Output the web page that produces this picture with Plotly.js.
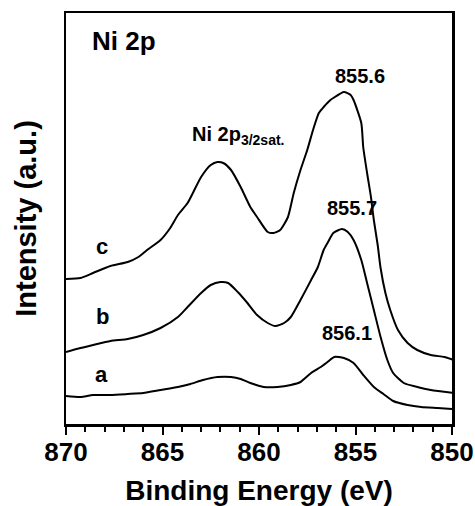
<!DOCTYPE html>
<html>
<head>
<meta charset="utf-8">
<script src="https://cdn.plot.ly/plotly-3.0.1.min.js"></script>
<style>
  html, body { margin: 0; padding: 0; background: #fff; }
  #chart { width: 475px; height: 506px; }
</style>
</head>
<body>
<div id="chart"></div>
<script>
// Ni 2p XPS spectra, binding energy (eV) vs. intensity (a.u., offset curves)
const energyC = [870.0, 869.25, 868.6, 867.7, 866.8, 866.25, 865.8, 865.1, 864.6, 864.2, 863.7, 863.4, 863.0, 862.5, 862.15, 861.85, 861.45, 860.95, 860.45, 860.1, 859.55, 859.25, 858.9, 858.5, 858.2, 857.85, 857.5, 857.2, 856.9, 856.65, 856.3, 856.15, 855.6, 855.25, 855.1, 854.7, 854.6, 854.4, 854.2, 854.05, 853.85, 853.7, 853.45, 853.2, 852.8, 852.3, 851.8, 851.1, 850.4, 849.9];
const intensityC = [145, 146, 151, 158, 162, 167, 174, 184, 196, 209, 221, 232, 247, 259, 262, 261, 254, 237, 217, 207, 192, 191, 194, 207, 231, 254, 274, 294, 311, 317, 324, 326, 332, 329, 324, 301, 277, 251, 227, 204, 179, 156, 131, 114, 94, 81, 74, 69, 67, 64];

const energyB = [870.0, 869.25, 868.6, 867.7, 866.8, 866.0, 865.1, 864.2, 863.7, 863.0, 862.5, 862.0, 861.6, 861.1, 860.6, 860.1, 859.55, 859.15, 858.7, 858.35, 857.85, 857.3, 856.95, 856.65, 856.45, 856.15, 855.7, 855.4, 855.1, 854.7, 854.4, 854.05, 853.7, 853.35, 853.05, 852.5, 851.8, 851.1, 849.9];
const intensityB = [72, 76, 79, 83, 85, 89, 96, 107, 117, 131, 139, 142, 141, 132, 121, 109, 101, 98, 101, 107, 124, 144, 157, 174, 181, 191, 195, 192, 184, 164, 141, 114, 87, 64, 51, 41, 37, 34, 31];

const energyA = [870.0, 869.25, 868.6, 867.7, 866.8, 866.0, 865.1, 864.2, 863.55, 862.9, 862.15, 861.45, 860.95, 860.45, 859.75, 859.05, 858.35, 857.85, 857.3, 856.8, 856.45, 856.1, 855.6, 855.1, 854.6, 854.05, 853.55, 853.05, 852.3, 851.6, 850.75, 849.9];
const intensityA = [28, 27, 29, 29, 30, 31, 34, 37, 40, 44, 47, 47, 45, 41, 37, 37, 39, 42, 51, 57, 62, 67, 66, 61, 49, 37, 30, 23, 19, 17, 16, 15];

const xTickVals = [870, 865, 860, 855, 850];
const xTickText = ['870', '865', '860', '855', '850'];

const FONT = 'Arial, "Liberation Sans", sans-serif';

function spectrum(x, y) {
  return {
    x: x, y: y, type: 'scatter', mode: 'lines',
    line: { color: '#000', width: 2, shape: 'spline', smoothing: 0.6 },
    cliponaxis: false, hoverinfo: 'skip'
  };
}

const traces = [
  spectrum(energyA, intensityA),
  spectrum(energyB, intensityB),
  spectrum(energyC, intensityC)
];

function label(text, x, y, size, xanchor) {
  return {
    text: text, x: x, y: y, xref: 'x', yref: 'y',
    xanchor: xanchor || 'center', yanchor: 'middle',
    showarrow: false,
    font: { family: FONT, size: size, color: '#000', weight: 'bold' }
  };
}

const layout = {
  width: 475, height: 506,
  margin: { l: 65.5, r: 23, t: 13, b: 82 },
  paper_bgcolor: '#fff', plot_bgcolor: '#fff',
  showlegend: false,
  font: { family: FONT, color: '#000' },
  xaxis: {
    range: [870, 850],
    tickvals: xTickVals, ticktext: xTickText,
    ticks: 'outside', ticklen: 8, tickwidth: 2, tickcolor: '#000',
    ticklabelstandoff: -5,
    minor: { dtick: 1, ticks: 'outside', ticklen: 5, tickwidth: 2, tickcolor: '#000' },
    tickfont: { family: FONT, size: 26, color: '#000', weight: 'bold' },
    showline: true, linecolor: '#000', linewidth: 2.5, mirror: true,
    showgrid: false, zeroline: false,
    title: { text: 'Binding Energy (eV)', standoff: 16,
             font: { family: FONT, size: 28, color: '#000', weight: 'bold' } }
  },
  yaxis: {
    range: [0, 411],
    showticklabels: false, ticks: '',
    showline: true, linecolor: '#000', linewidth: 2.5, mirror: true,
    showgrid: false, zeroline: false,
    title: { text: 'Intensity (a.u.)', standoff: 19,
             font: { family: FONT, size: 29, color: '#000', weight: 'bold' } }
  },
  annotations: [
    label('Ni 2p', 868.78, 383, 26, 'left'),
    label('Ni 2p<sub>3/2sat.</sub>', 863.55, 289, 20, 'left'),
    label('855.6', 854.79, 348, 20),
    label('855.7', 855.16, 216, 20),
    label('856.1', 855.44, 91, 20),
    label('c', 868.16, 178, 22),
    label('b', 868.1, 108, 22),
    label('a', 868.16, 50, 22)
  ]
};

Plotly.newPlot('chart', traces, layout, { staticPlot: true, displayModeBar: false });
</script>
</body>
</html>
